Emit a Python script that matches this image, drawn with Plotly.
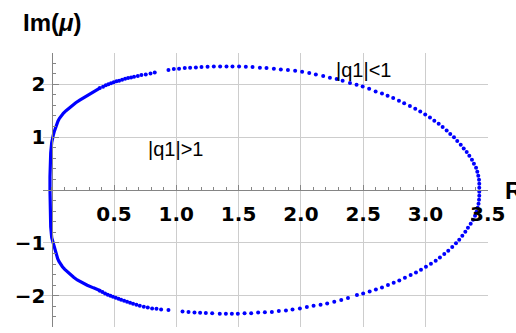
import plotly.graph_objects as go

# Branch hugging the imaginary axis (dense run of points, drawn as a solid stroke)
re_near = [0.386, 0.365, 0.330, 0.295, 0.258, 0.225, 0.193, 0.165, 0.138, 0.115, 0.093, 0.075,
           0.061, 0.050, 0.041, 0.035, 0.027, 0.020, 0.014, 0.008, 0.000, -0.008, -0.012,
           -0.014, -0.014, -0.014, -0.012, -0.008, 0.000, 0.011, 0.016, 0.020, 0.026, 0.033,
           0.040, 0.048, 0.058, 0.070, 0.086, 0.105, 0.126, 0.150, 0.176, 0.205, 0.243,
           0.285, 0.335, 0.386]
im_near = [1.928, 1.900, 1.850, 1.800, 1.750, 1.700, 1.650, 1.600, 1.550, 1.500, 1.450, 1.400,
           1.350, 1.300, 1.250, 1.200, 1.150, 1.100, 1.050, 1.000, 0.900, 0.700, 0.500,
           0.250, 0.000, -0.250, -0.500, -0.700, -0.900, -1.000, -1.050, -1.100, -1.150, -1.200,
           -1.250, -1.300, -1.350, -1.400, -1.450, -1.500, -1.550, -1.600, -1.650, -1.700, -1.750,
           -1.800, -1.850, -1.898]

# Upper arc, sampled points
re_top = [0.386, 0.412, 0.434, 0.455, 0.476, 0.498, 0.520, 0.541, 0.565, 0.589, 0.613, 0.637,
          0.661, 0.691, 0.720, 0.755, 0.793, 0.827,
          0.937, 0.980, 1.022, 1.068, 1.111, 1.157, 1.202, 1.251, 1.301, 1.352, 1.403,
          1.451, 1.504, 1.558, 1.612, 1.671, 1.724, 1.783, 1.839, 1.896, 1.954, 2.010,
          2.067, 2.120, 2.179, 2.233, 2.287, 2.335, 2.394, 2.447, 2.496, 2.548, 2.600,
          2.651, 2.696, 2.741, 2.787, 2.829, 2.875, 2.918, 2.958, 2.998, 3.036, 3.071,
          3.106, 3.138, 3.170, 3.199, 3.229, 3.255, 3.283, 3.307, 3.331, 3.352, 3.373,
          3.389, 3.406, 3.416, 3.424, 3.430, 3.432, 3.432]
im_top = [1.928, 1.953, 1.978, 1.997, 2.016, 2.035, 2.054, 2.067, 2.085, 2.104, 2.117, 2.129,
          2.142, 2.155, 2.174, 2.185, 2.204, 2.223,
          2.268, 2.287, 2.293, 2.306, 2.312, 2.318, 2.325, 2.331, 2.337, 2.337, 2.337,
          2.337, 2.337, 2.331, 2.325, 2.312, 2.306, 2.293, 2.280, 2.268, 2.255, 2.236,
          2.211, 2.185, 2.155, 2.123, 2.097, 2.067, 2.023, 1.991, 1.959, 1.915, 1.864,
          1.826, 1.783, 1.739, 1.688, 1.638, 1.588, 1.537, 1.486, 1.429, 1.372, 1.310,
          1.253, 1.191, 1.126, 1.059, 0.995, 0.926, 0.856, 0.786, 0.718, 0.648, 0.573,
          0.497, 0.422, 0.346, 0.270, 0.195, 0.119, 0.044]

# Lower arc, sampled points
re_bot = [3.432, 3.432, 3.430, 3.426, 3.419, 3.410, 3.398, 3.382, 3.363, 3.341, 3.320, 3.296,
          3.271, 3.245, 3.215, 3.183, 3.151, 3.116, 3.082, 3.044, 3.004, 2.964, 2.924,
          2.881, 2.835, 2.790, 2.745, 2.699, 2.651, 2.602, 2.552, 2.500, 2.450,
          2.378, 2.324, 2.268, 2.211, 2.158, 2.102, 2.048, 1.992, 1.933, 1.880, 1.823,
          1.767, 1.711, 1.657, 1.601, 1.548, 1.494, 1.446, 1.398, 1.349,
          1.288, 1.237, 1.191, 1.146, 1.098, 1.050,
          0.937, 0.878, 0.841, 0.806, 0.771, 0.739, 0.707, 0.680, 0.653, 0.629, 0.605,
          0.581, 0.557, 0.536, 0.514, 0.492, 0.471, 0.450, 0.428, 0.407, 0.386]
im_bot = [-0.032, -0.108, -0.183, -0.259, -0.335, -0.410, -0.486, -0.561, -0.637, -0.713,
          -0.788, -0.864, -0.939, -1.009, -1.078, -1.147, -1.210, -1.274, -1.336, -1.393,
          -1.450, -1.507, -1.558, -1.607, -1.658, -1.709, -1.752, -1.796, -1.841, -1.879,
          -1.917, -1.955, -1.985,
          -2.042, -2.079, -2.112, -2.144, -2.168, -2.187, -2.212, -2.238, -2.257, -2.276,
          -2.287, -2.306, -2.312, -2.318, -2.331, -2.331, -2.338, -2.338, -2.338, -2.338,
          -2.331, -2.325, -2.319, -2.314, -2.306, -2.295,
          -2.268, -2.257, -2.244, -2.238, -2.219, -2.206, -2.187, -2.168, -2.149, -2.130,
          -2.112, -2.093, -2.074, -2.055, -2.036, -2.017, -1.998, -1.979, -1.955, -1.928,
          -1.904]

x_ticks = [0.5, 1.0, 1.5, 2.0, 2.5, 3.0, 3.5]
x_tick_text = ["0.5", "1.0", "1.5", "2.0", "2.5", "3.0", "3.5"]
y_ticks = [-2, -1, 1, 2]
y_tick_text = ["\u22122", "\u22121", "1", "2"]

BLUE = "#0000ff"
AXIS = "#858585"
GRID = "#cdcdcd"
FONT = "Liberation Sans"
TICK_FONT = "DejaVu Sans"

x_lo, x_hi = -0.07, 3.502
y_lo, y_hi = -2.59, 2.59

fig = go.Figure()
fig.add_trace(go.Scatter(x=re_near, y=im_near, mode="lines",
                         line=dict(color=BLUE, width=3.2),
                         hoverinfo="skip", showlegend=False))
fig.add_trace(go.Scatter(x=re_top + re_bot, y=im_top + im_bot, mode="markers",
                         marker=dict(color=BLUE, size=4.0, line=dict(width=0)),
                         showlegend=False))

fig.add_annotation(x=0.99, y=0.77, xref="x", yref="y", text="|q1|>1", showarrow=False,
                   font=dict(family=FONT, size=20, color="black"))
fig.add_annotation(x=2.50, y=2.27, xref="x", yref="y", text="|q1|<1", showarrow=False,
                   font=dict(family=FONT, size=20, color="black"))
fig.add_annotation(x=0.0202, y=1.113, xref="paper", yref="paper",
                   text="Im(<i>\u03bc</i>)", showarrow=False, xanchor="center", yanchor="middle",
                   font=dict(family=FONT, size=24, color="black", weight="bold"))
fig.add_annotation(x=1.0, y=0.5, xref="paper", yref="paper", xshift=15,
                   text="Re(<i>\u03bc</i>)", showarrow=False, xanchor="left", yanchor="middle",
                   font=dict(family=FONT, size=24, color="black", weight="bold"))

fig.update_layout(
    width=516, height=333,
    margin=dict(l=43, r=28, t=53, b=6),
    paper_bgcolor="white", plot_bgcolor="white",
    xaxis=dict(range=[x_lo, x_hi], tickvals=x_ticks, ticktext=x_tick_text,
               showgrid=True, gridcolor=GRID, gridwidth=1.3, zeroline=False,
               showline=True, linecolor=AXIS, linewidth=1.4,
               anchor="free", position=(0 - y_lo) / (y_hi - y_lo),
               ticks="inside", ticklen=5, tickwidth=1.3, tickcolor=AXIS,
               minor=dict(dtick=0.1, tick0=0, ticks="inside", ticklen=3,
                          tickwidth=1.2, tickcolor=AXIS, showgrid=False),
               tickfont=dict(family=TICK_FONT, size=20, color="black", weight="bold"),
               ticklabelstandoff=6, fixedrange=True),
    yaxis=dict(range=[y_lo, y_hi], tickvals=y_ticks, ticktext=y_tick_text,
               showgrid=True, gridcolor=GRID, gridwidth=1.3, zeroline=False,
               showline=True, linecolor=AXIS, linewidth=1.4,
               anchor="free", position=(0 - x_lo) / (x_hi - x_lo),
               ticks="inside", ticklen=6, tickwidth=1.3, tickcolor=AXIS,
               minor=dict(dtick=0.2, tick0=0, ticks="inside", ticklen=3.5,
                          tickwidth=1.2, tickcolor=AXIS, showgrid=False),
               tickfont=dict(family=TICK_FONT, size=20, color="black", weight="bold"),
               ticklabelstandoff=2, fixedrange=True),
)

fig.write_html("out.html")
